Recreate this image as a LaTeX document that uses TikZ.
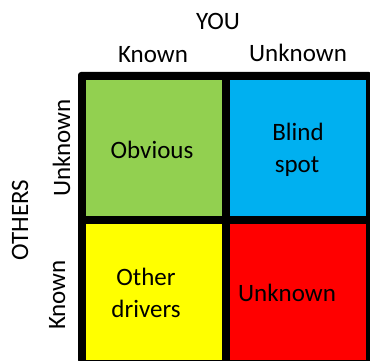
\documentclass[tikz,border=0pt]{standalone}
\usepackage{fontspec}
\setmainfont{Carlito}
\usepackage{tikz}
\usetikzlibrary{positioning}

\definecolor{obvgreen}{HTML}{92D050}
\definecolor{blindblue}{HTML}{00B0F0}
\definecolor{otheryellow}{HTML}{FFFF00}
\definecolor{unkred}{HTML}{FF0000}

\begin{document}
\begin{tikzpicture}[x=1pt, y=-1pt, font=\fontsize{25}{32}\selectfont,
  cell/.style={minimum width=136pt, minimum height=136pt, inner sep=0pt, outer sep=0pt},
  txt/.style={anchor=base, inner sep=0pt, align=center}]
  \useasboundingbox (0,0) rectangle (370,361);
  % black frame behind the four cells
  \fill[rounded corners=3pt] (78,72) rectangle (372,363);
  % the four quadrants
  \node[cell, fill=obvgreen] (obv) at (154,148) {};
  \node[cell, fill=blindblue] (blind) at (298,148) {};
  \node[cell, fill=otheryellow] (other) at (154,292) {};
  \node[cell, fill=unkred] (unk) at (298,292) {};
  % quadrant texts
  \node[txt] (obvtxt) at (152,158) {Obvious};
  \node[txt] (blindtxt) at (298,140) {Blind};
  \node[txt] (spottxt) at (297,172) {spot};
  \node[txt] (othertxt) at (146,285) {Other};
  \node[txt] (driverstxt) at (146,317) {drivers};
  \node[txt] (unktxt) at (287,301) {Unknown};
  % axis headings (top)
  \node[txt] (you) at (218,30) {YOU};
  \node[txt] (youknown) at (153,63) {Known};
  \node[txt] (youunknown) at (298,62) {Unknown};
  % axis headings (left)
  \node[txt, rotate=90] (others) at (28,220) {OTHERS};
  \node[txt, rotate=90] (othunknown) at (70,148) {Unknown};
  \node[txt, rotate=90] (othknown) at (65,295) {Known};
\end{tikzpicture}
\end{document}
